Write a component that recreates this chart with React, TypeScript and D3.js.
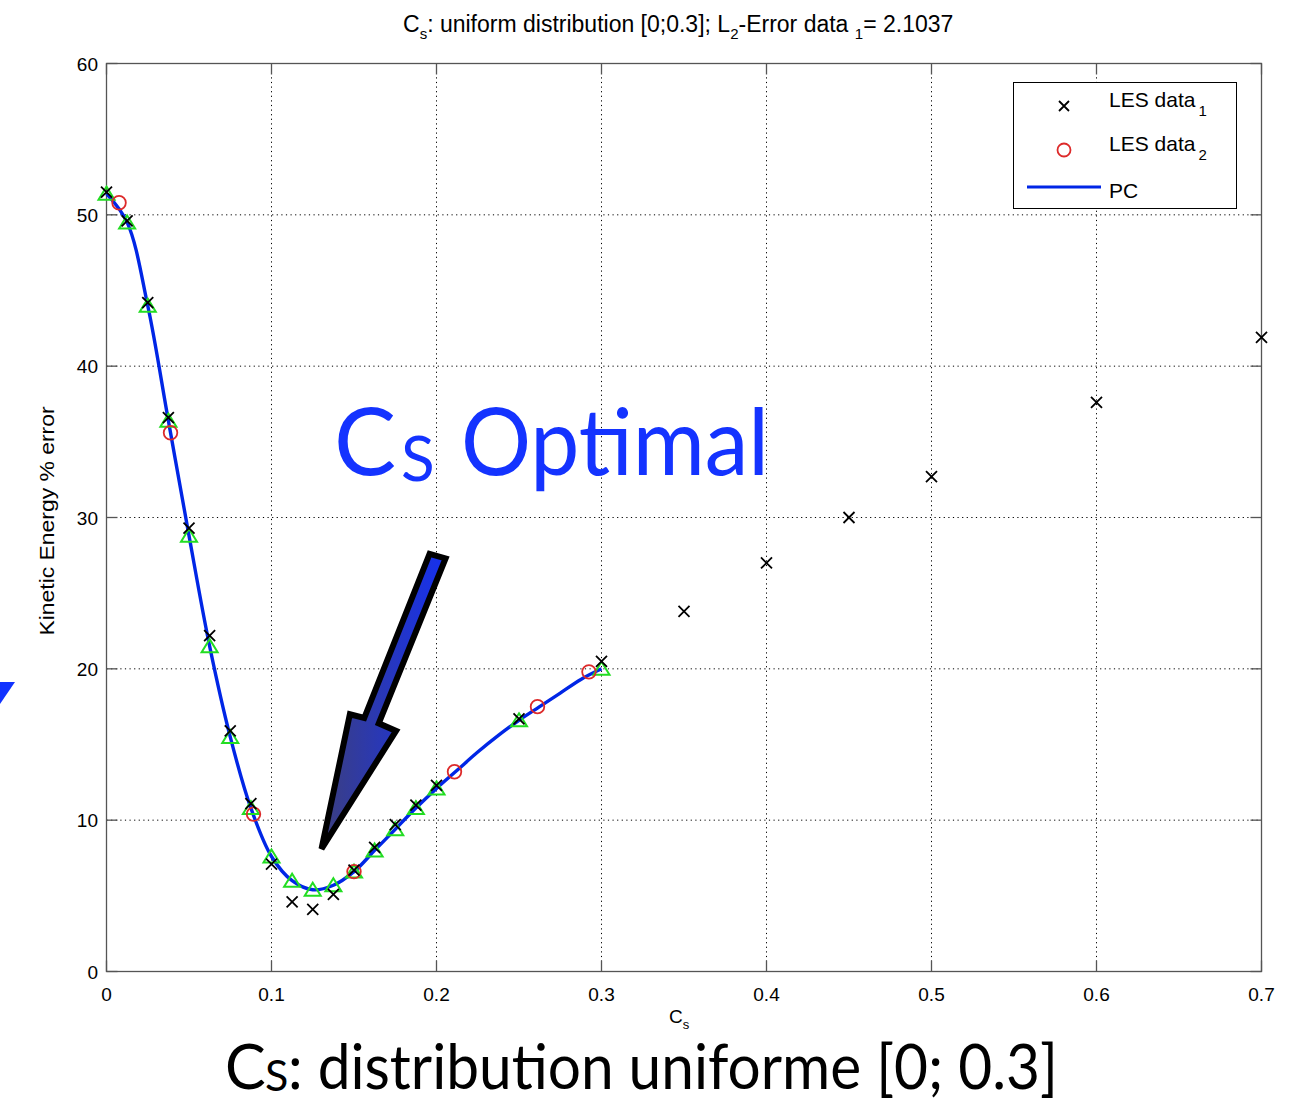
import React from "react";
import * as d3 from "d3";

// ---- data ----
const les1X = [0, 0.0125, 0.025, 0.0375, 0.05, 0.0625, 0.075, 0.0875, 0.1, 0.1125, 0.125, 0.1375, 0.15, 0.1625, 0.175, 0.1875, 0.2, 0.25, 0.3, 0.35, 0.4, 0.45, 0.5, 0.6, 0.7];
const les1Y = [51.5, 49.6, 44.2, 36.6, 29.3, 22.2, 15.9, 11.1, 7.1, 4.6, 4.1, 5.1, 6.7, 8.2, 9.7, 11.0, 12.3, 16.7, 20.5, 23.8, 27.0, 30.0, 32.7, 37.6, 41.9];

const les2X = [0.0076, 0.0388, 0.0891, 0.15, 0.2109, 0.2612, 0.2924];
const les2Y = [50.8, 35.6, 10.4, 6.6, 13.2, 17.5, 19.8];

const pcX = [0, 0.0125, 0.025, 0.0375, 0.05, 0.0625, 0.075, 0.0875, 0.1, 0.1125, 0.125, 0.1375, 0.15, 0.1625, 0.175, 0.1875, 0.2, 0.2125, 0.225, 0.2375, 0.25, 0.2625, 0.275, 0.2875, 0.3];
const pcY = [51.4, 49.5, 44.0, 36.4, 28.8, 21.5, 15.5, 10.8, 7.6, 6.0, 5.4, 5.7, 6.6, 8.0, 9.4, 10.8, 12.1, 13.3, 14.5, 15.6, 16.6, 17.5, 18.4, 19.3, 20.0];

const triX = [0, 0.0125, 0.025, 0.0375, 0.05, 0.0625, 0.075, 0.0875, 0.1, 0.1125, 0.125, 0.1375, 0.15, 0.1625, 0.175, 0.1875, 0.2, 0.25, 0.3];
const triY = [51.4, 49.5, 44.0, 36.4, 28.8, 21.5, 15.5, 10.8, 7.6, 6.0, 5.4, 5.7, 6.6, 8.0, 9.4, 10.8, 12.1, 16.6, 20.0];

const xTicks = [0, 0.1, 0.2, 0.3, 0.4, 0.5, 0.6, 0.7];
const xTickLabels = ["0", "0.1", "0.2", "0.3", "0.4", "0.5", "0.6", "0.7"];
const yTicks = [0, 10, 20, 30, 40, 50, 60];
const yTickLabels = ["0", "10", "20", "30", "40", "50", "60"];

// arrow annotation, in data units
const arrowX = [0.1958, 0.2055, 0.1650, 0.1755, 0.1303, 0.1475, 0.1562];
const arrowY = [27.6, 27.3, 16.4, 15.9, 8.1, 17.0, 16.75];

const W = 1307;
const H = 1102;
const L = 106.5, R = 1261.5, T = 63.5, B = 971.5;

export default function App() {
  const x = d3.scaleLinear().domain([0, 0.7]).range([L, R]);
  const y = d3.scaleLinear().domain([0, 60]).range([B, T]);
  const line = d3
    .line<number>()
    .x((_, i) => x(pcX[i]))
    .y((d) => y(d))
    .curve(d3.curveCatmullRom.alpha(0.5));
  const pcPath = line(pcY) || "";
  const arrowPts = arrowX.map((ax, i) => `${x(ax)},${y(arrowY[i])}`).join(" ");
  const font = "'Liberation Sans', Arial, Helvetica, sans-serif";
  const big = "Lato, 'Open Sans', sans-serif";
  const xm = (cx: number, cy: number, s: number) =>
    `M${cx - s},${cy - s}L${cx + s},${cy + s}M${cx - s},${cy + s}L${cx + s},${cy - s}`;
  const tri = (cx: number, cy: number) => `M${cx},${cy - 7}L${cx + 8},${cy + 6}L${cx - 8},${cy + 6}Z`;

  return (
    <svg width={W} height={H} style={{ position: "absolute", left: 0, top: 0, background: "#fff" }}>
      <defs>
        <linearGradient id="arrowGrad" x1="0" y1="0" x2="1" y2="0">
          <stop offset="0" stopColor="#3c3f80" />
          <stop offset="1" stopColor="#1530f0" />
        </linearGradient>
      </defs>
      <rect x={0} y={0} width={W} height={H} fill="#fff" />

      {/* grid */}
      {xTicks.slice(1, -1).map((t) => (
        <line key={"gx" + t} x1={x(t)} x2={x(t)} y1={T} y2={B} stroke="#000" strokeWidth={1} strokeDasharray="1.2,3.4" />
      ))}
      {yTicks.slice(1, -1).map((t) => (
        <line key={"gy" + t} x1={L} x2={R} y1={y(t)} y2={y(t)} stroke="#000" strokeWidth={1} strokeDasharray="1.2,3.4" />
      ))}

      {/* frame & ticks */}
      <rect x={L} y={T} width={R - L} height={B - T} fill="none" stroke="#555" strokeWidth={1.3} />
      {xTicks.map((t) => (
        <g key={"tx" + t}>
          <line x1={x(t)} x2={x(t)} y1={B} y2={B - 11} stroke="#555" strokeWidth={1.3} />
          <line x1={x(t)} x2={x(t)} y1={T} y2={T + 11} stroke="#555" strokeWidth={1.3} />
        </g>
      ))}
      {yTicks.map((t) => (
        <g key={"ty" + t}>
          <line x1={L} x2={L + 11} y1={y(t)} y2={y(t)} stroke="#555" strokeWidth={1.3} />
          <line x1={R} x2={R - 11} y1={y(t)} y2={y(t)} stroke="#555" strokeWidth={1.3} />
        </g>
      ))}
      {xTicks.map((t, i) => (
        <text key={"lx" + t} x={x(t)} y={1001} textAnchor="middle" fontFamily={font} fontSize={19} fill="#000">
          {xTickLabels[i]}
        </text>
      ))}
      {yTicks.map((t, i) => (
        <text key={"ly" + t} x={98} y={y(t) + 7} textAnchor="end" fontFamily={font} fontSize={19} fill="#000">
          {yTickLabels[i]}
        </text>
      ))}

      {/* axis labels */}
      <text x={669} y={1023} fontFamily={font} fontSize={19} fill="#000">
        C<tspan fontSize={13} dy={6}>s</tspan>
      </text>
      <text transform="translate(54,521) rotate(-90)" textAnchor="middle" fontFamily={font} fontSize={20} fill="#000" textLength={229} lengthAdjust="spacingAndGlyphs">
        Kinetic Energy % error
      </text>

      {/* title */}
      <text x={403} y={32} fontFamily={font} fontSize={23} fill="#000">
        C<tspan fontSize={15} dy={7}>s</tspan>
        <tspan dy={-7}>: uniform distribution [0;0.3]; L</tspan>
        <tspan fontSize={15} dy={7}>2</tspan>
        <tspan dy={-7}>-Error data </tspan>
        <tspan fontSize={15} dy={7}>1</tspan>
        <tspan dy={-7}>= 2.1037</tspan>
      </text>

      {/* PC curve */}
      <path d={pcPath} fill="none" stroke="#0026e6" strokeWidth={3.4} />

      {/* green triangles */}
      {triX.map((tx, i) => (
        <path key={"tr" + i} d={tri(x(tx), y(triY[i]))} fill="none" stroke="#22dd22" strokeWidth={2} />
      ))}

      {/* LES data 2 */}
      {les2X.map((cx, i) => (
        <circle key={"c" + i} cx={x(cx)} cy={y(les2Y[i])} r={6.8} fill="none" stroke="#dd2a2a" strokeWidth={1.8} />
      ))}

      {/* LES data 1 */}
      {les1X.map((cx, i) => (
        <path key={"x" + i} d={xm(x(cx), y(les1Y[i]), 5.5)} stroke="#000" strokeWidth={1.8} fill="none" />
      ))}

      {/* legend */}
      <rect x={1013.5} y={82.5} width={223} height={126} fill="#fff" stroke="#000" strokeWidth={1} />
      <path d={xm(1064, 106, 5)} stroke="#000" strokeWidth={1.8} fill="none" />
      <text x={1109} y={107} fontFamily={font} fontSize={21} fill="#000">
        LES data<tspan fontSize={15} dx={3} dy={9}>1</tspan>
      </text>
      <circle cx={1064} cy={150} r={6.5} fill="none" stroke="#dd2a2a" strokeWidth={1.8} />
      <text x={1109} y={151} fontFamily={font} fontSize={21} fill="#000">
        LES data<tspan fontSize={15} dx={3} dy={9}>2</tspan>
      </text>
      <line x1={1027} x2={1101} y1={187} y2={187} stroke="#0026e6" strokeWidth={3} />
      <text x={1109} y={198} fontFamily={font} fontSize={21} fill="#000">PC</text>

      {/* arrow annotation */}
      <polygon points={arrowPts} fill="url(#arrowGrad)" stroke="#000" strokeWidth={6} strokeLinejoin="miter" />

      {/* Cs Optimal */}
      <text x={334} y={475} fontFamily={big} fontSize={93} fill="#1433ff">C</text>
      <text x={401} y={481} fontFamily={big} fontSize={62} fill="#1433ff">S</text>
      <text x={461} y={475} fontFamily={big} fontSize={93} fill="#1433ff" textLength={308} lengthAdjust="spacingAndGlyphs">Optimal</text>

      {/* left edge fragment */}
      <polygon points="0,682 15,682 0,704" fill="#1133ff" />

      {/* caption */}
      <text x={225} y={1089} fontFamily={big} fontSize={61} fill="#000">C</text>
      <text x={265} y={1091} fontFamily={big} fontSize={43} fill="#000">S</text>
      <text x={288} y={1089} fontFamily={big} fontSize={61} fill="#000" textLength={770} lengthAdjust="spacingAndGlyphs">: distribution uniforme [0; 0.3]</text>
    </svg>
  );
}
